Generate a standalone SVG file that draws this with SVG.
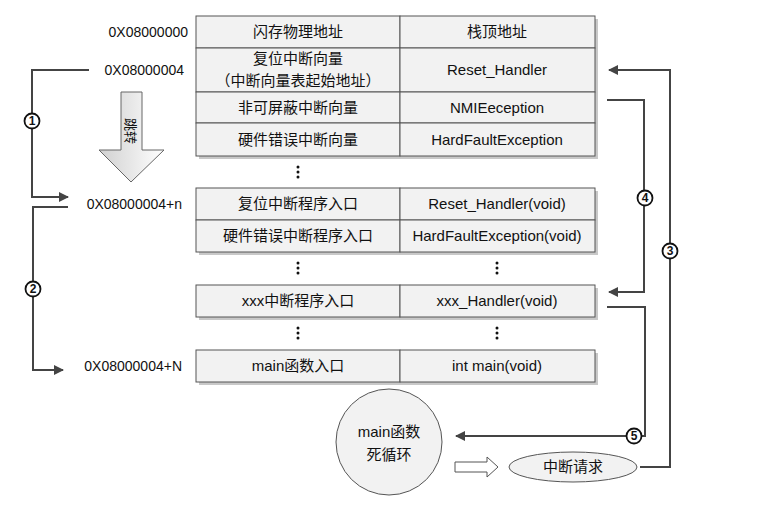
<svg xmlns="http://www.w3.org/2000/svg" width="783" height="524" viewBox="0 0 783 524">
<style>
.c{fill:#f2f2f2;stroke:#555;stroke-width:1}
.s{fill:#c8c8c8}
text{font-family:"Liberation Sans","Noto Sans CJK SC",sans-serif;font-size:15px;fill:#111;text-anchor:middle}
.a{text-anchor:end;font-size:14px}
.l{fill:none;stroke:#444;stroke-width:2}
.nc{fill:#fff;stroke:#111;stroke-width:1.8}
.n{font-size:12px;font-weight:bold}
</style>
<defs>
<marker id="ar" viewBox="0 0 10 10" refX="9" refY="5" markerWidth="5" markerHeight="5" orient="auto"><path d="M0,0L10,5L0,10z" fill="#444"/></marker>
<linearGradient id="g" x1="0" x2="1"><stop offset="0" stop-color="#d0d0d0"/><stop offset="1" stop-color="#fff"/></linearGradient>
</defs>
<rect width="783" height="524" fill="#fff"/>
<g id="table">
<rect class="s" x="199" y="19" width="399" height="140"/>
<rect class="c" x="196" y="16" width="204" height="32"/><rect class="c" x="400" y="16" width="195" height="32"/>
<rect class="c" x="196" y="48" width="204" height="44"/><rect class="c" x="400" y="48" width="195" height="44"/>
<rect class="c" x="196" y="92" width="204" height="31"/><rect class="c" x="400" y="92" width="195" height="31"/>
<rect class="c" x="196" y="123" width="204" height="33"/><rect class="c" x="400" y="123" width="195" height="33"/>
<text x="298" y="37">闪存物理地址</text><text x="497" y="37">栈顶地址</text>
<text x="298" y="64">复位中断向量</text><text x="298" y="86">（中断向量表起始地址）</text><text x="497" y="75">Reset_Handler</text>
<text x="298" y="113">非可屏蔽中断向量</text><text x="497" y="113">NMIEeception</text>
<text x="298" y="145">硬件错误中断向量</text><text x="497" y="145">HardFaultException</text>
<rect class="s" x="199" y="191" width="399" height="64"/>
<rect class="c" x="196" y="188" width="204" height="32"/><rect class="c" x="400" y="188" width="195" height="32"/>
<rect class="c" x="196" y="220" width="204" height="32"/><rect class="c" x="400" y="220" width="195" height="32"/>
<text x="298" y="209">复位中断程序入口</text><text x="497" y="209">Reset_Handler(void)</text>
<text x="298" y="241">硬件错误中断程序入口</text><text x="497" y="241">HardFaultException(void)</text>
<rect class="s" x="199" y="288" width="399" height="32"/>
<rect class="c" x="196" y="285" width="204" height="32"/><rect class="c" x="400" y="285" width="195" height="32"/>
<text x="298" y="306">xxx中断程序入口</text><text x="497" y="306">xxx_Handler(void)</text>
<rect class="s" x="199" y="353" width="399" height="32"/>
<rect class="c" x="196" y="350" width="204" height="32"/><rect class="c" x="400" y="350" width="195" height="32"/>
<text x="298" y="371">main函数入口</text><text x="497" y="371">int main(void)</text>
</g>
<g id="dots" fill="#111">
<circle cx="298" cy="167" r="1.5"/><circle cx="298" cy="172" r="1.5"/><circle cx="298" cy="177" r="1.5"/>
<circle cx="298" cy="263" r="1.5"/><circle cx="298" cy="268" r="1.5"/><circle cx="298" cy="273" r="1.5"/>
<circle cx="497" cy="263" r="1.5"/><circle cx="497" cy="268" r="1.5"/><circle cx="497" cy="273" r="1.5"/>
<circle cx="298" cy="328" r="1.5"/><circle cx="298" cy="333" r="1.5"/><circle cx="298" cy="338" r="1.5"/>
<circle cx="497" cy="328" r="1.5"/><circle cx="497" cy="333" r="1.5"/><circle cx="497" cy="338" r="1.5"/>
</g>
<g id="addr">
<text class="a" x="188" y="37">0X08000000</text>
<text class="a" x="184" y="75">0X08000004</text>
<text class="a" x="182" y="209">0X08000004+n</text>
<text class="a" x="182" y="371">0X08000004+N</text>
</g>
<g id="jump">
<path d="M121,92H142V150H164L131,182L99,150H121Z" fill="url(#g)" stroke="#666"/>
<text x="0" y="0" transform="translate(126,131) rotate(90)" style="font-size:13px">跳转</text>
</g>
<g id="connectors">
<path class="l" d="M89,70H32V197H68" marker-end="url(#ar)"/>
<path class="l" d="M68,207H33V370H63" marker-end="url(#ar)"/>
<path class="l" d="M640,467H670V70H609" marker-end="url(#ar)"/>
<path class="l" d="M607,100H644V292H609" marker-end="url(#ar)"/>
<path class="l" d="M607,307H645V436H456" marker-end="url(#ar)"/>
<path d="M455,462H487V457L498,467L487,477V472H455Z" fill="#fff" stroke="#555"/>
</g>
<g id="nums">
<circle class="nc" cx="32" cy="121" r="7.5"/><text class="n" x="32" y="125">1</text>
<circle class="nc" cx="33" cy="289" r="7.5"/><text class="n" x="33" y="293">2</text>
<circle class="nc" cx="670" cy="251" r="7.5"/><text class="n" x="670" y="255">3</text>
<circle class="nc" cx="645" cy="198" r="7.5"/><text class="n" x="645" y="202">4</text>
<circle class="nc" cx="634" cy="436" r="7.5"/><text class="n" x="634" y="440">5</text>
</g>
<g id="loop"><circle cx="389" cy="442" r="53" fill="#f2f2f2" stroke="#555"/>
<text x="389" y="437">main函数</text><text x="389" y="460">死循环</text></g>
<g id="irq"><ellipse cx="573" cy="467" rx="64" ry="15" fill="#f2f2f2" stroke="#555"/>
<text x="573" y="472">中断请求</text></g>
</svg>
